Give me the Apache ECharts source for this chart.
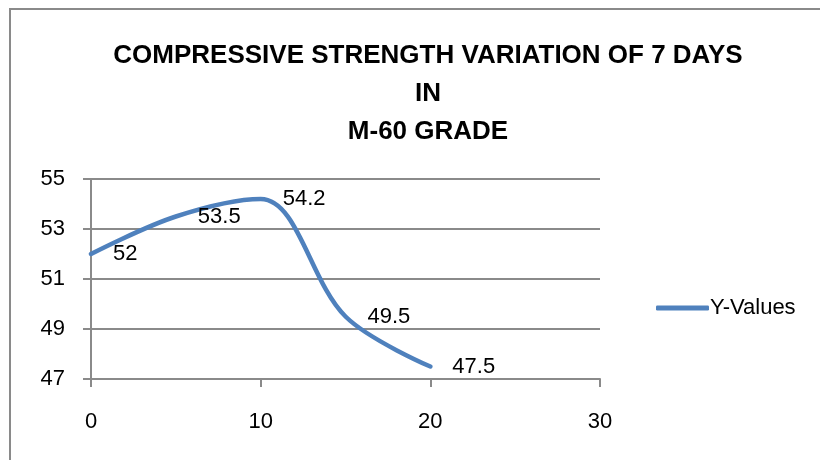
<!DOCTYPE html>
<html>
<head>
<meta charset="utf-8">
<script src="https://cdn.jsdelivr.net/npm/echarts@6/dist/echarts.min.js"></script>
<style>
  html, body { margin: 0; padding: 0; background: #fff; }
  #chart { width: 820px; height: 460px; }
</style>
</head>
<body>
<div id="chart"></div>
<script>
  // data
  var xValues = [0, 5, 10, 15, 20];
  var yValues = [52, 53.5, 54.2, 49.5, 47.5];
  var seriesName = 'Y-Values';
  var titleLines = ['COMPRESSIVE STRENGTH VARIATION OF 7 DAYS', 'IN', 'M-60 GRADE'];

  var points = xValues.map(function (x, i) { return [x, yValues[i]]; });

  var chart = echarts.init(document.getElementById('chart'));
  var option = {
    animation: false,
    title: {
      text: titleLines.join('\n'),
      left: 423,
      top: 32,
      textAlign: 'center',
      textStyle: {
        color: '#000',
        fontFamily: '"Liberation Sans Narrow", "Liberation Sans", sans-serif',
        fontWeight: 'bold',
        fontSize: 26,
        lineHeight: 38
      }
    },
    graphic: [{
      // outer chart-area frame
      type: 'rect',
      shape: { x: 10, y: 9, width: 830, height: 470 },
      style: { fill: 'none', stroke: '#8a8a8a', lineWidth: 2 },
      silent: true
    }],
    legend: {
      data: [seriesName],
      left: 656,
      top: 297,
      padding: 0,
      icon: 'roundRect',
      itemWidth: 53,
      itemHeight: 5,
      itemGap: 0,
      textStyle: {
        color: '#000',
        fontFamily: '"Liberation Sans", sans-serif',
        fontSize: 22,
        padding: [0, 0, 0, -4]
      }
    },
    grid: {
      left: 91,
      right: 220,
      top: 179,
      bottom: 81,
      containLabel: false
    },
    xAxis: {
      type: 'value',
      min: 0,
      max: 30,
      interval: 10,
      axisLine: { show: true, lineStyle: { color: '#8a8a8a', width: 2 } },
      axisTick: { show: true, length: 8, lineStyle: { color: '#8a8a8a', width: 2 } },
      axisLabel: {
        color: '#000',
        fontFamily: '"Liberation Sans", sans-serif',
        fontSize: 22,
        margin: 32
      },
      splitLine: { show: false }
    },
    yAxis: {
      type: 'value',
      min: 47,
      max: 55,
      interval: 2,
      axisLine: { show: true, lineStyle: { color: '#8a8a8a', width: 2 } },
      axisTick: { show: true, length: 8, lineStyle: { color: '#8a8a8a', width: 2 } },
      axisLabel: {
        color: '#000',
        fontFamily: '"Liberation Sans", sans-serif',
        fontSize: 22,
        margin: 26
      },
      splitLine: { show: true, lineStyle: { color: '#8a8a8a', width: 2 } }
    },
    series: [{
      name: seriesName,
      type: 'line',
      data: points,
      smooth: 0.35,
      symbol: 'circle',
      symbolSize: 0,
      lineStyle: { color: '#4F81BD', width: 4.5, cap: 'round' },
      itemStyle: { color: '#4F81BD' },
      label: {
        show: true,
        position: 'right',
        distance: 22,
        color: '#000',
        fontFamily: '"Liberation Sans", sans-serif',
        fontSize: 22
      }
    }]
  };
  chart.setOption(option);
  window.onresize = chart.resize;
</script>
</body>
</html>
